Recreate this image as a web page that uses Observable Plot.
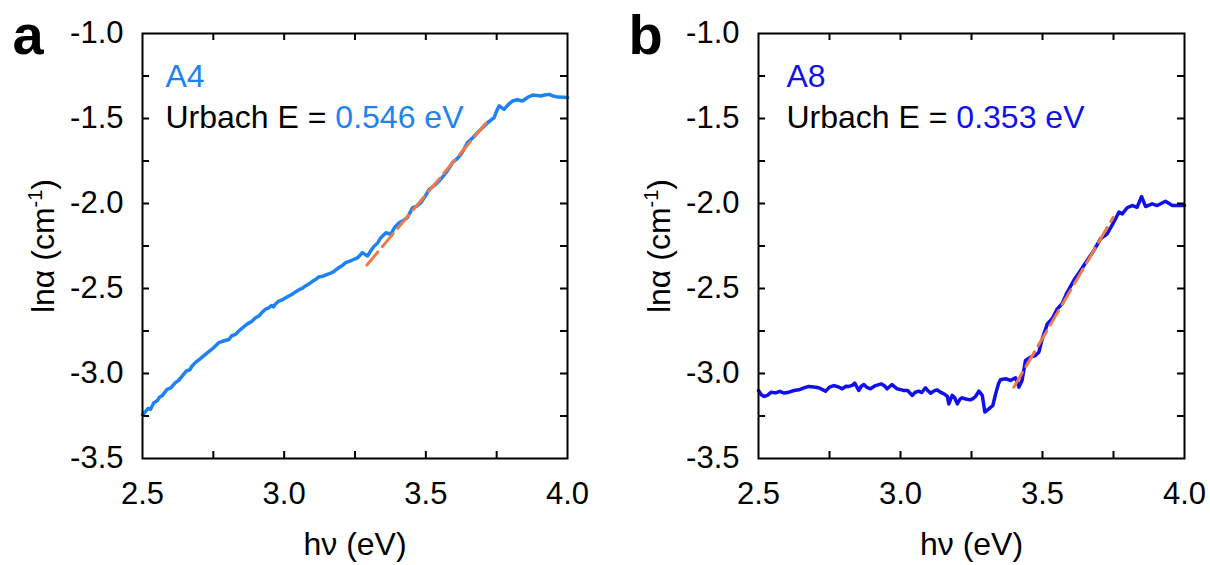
<!DOCTYPE html>
<html>
<head>
<meta charset="utf-8">
<script src="https://cdn.jsdelivr.net/npm/d3@7"></script>
<script src="https://cdn.jsdelivr.net/npm/@observablehq/plot@0.6"></script>
<style>
  html, body { margin: 0; padding: 0; background: white; }
  #wrap { display: flex; flex-direction: row; width: 1210px; height: 565px; }
  #wrap svg { display: block; }
</style>
</head>
<body>
<div id="wrap"></div>
<script>
// ---------- data ----------
const xTickLabels = [2.5, 3.0, 3.5, 4.0];
const yTickLabels = [-3.5, -3.0, -2.5, -2.0, -1.5, -1.0];
const xMinorTicks = [2.75, 3.0, 3.25, 3.5, 3.75];
const yMinorTicks = [-3.25, -3.0, -2.75, -2.5, -2.25, -2.0, -1.75, -1.5, -1.25];

const panelLetters = ["a", "b"];
const sampleNames = ["A4", "A8"];
const urbachEnergies = ["0.546 eV", "0.353 eV"];

const aX = [2.500,2.510,2.520,2.528,2.540,2.552,2.560,2.570,2.587,2.600,2.615,2.628,2.640,2.655,2.667,2.675,2.690,2.700,2.722,2.735,2.750,2.769,2.780,2.792,2.805,2.815,2.828,2.840,2.855,2.870,2.885,2.899,2.912,2.922,2.934,2.945,2.955,2.962,2.970,2.981,2.995,3.010,3.028,3.040,3.055,3.065,3.075,3.090,3.100,3.112,3.122,3.135,3.150,3.169,3.180,3.195,3.205,3.217,3.230,3.247,3.260,3.276,3.294,3.305,3.318,3.330,3.341,3.359,3.376,3.390,3.406,3.420,3.435,3.453,3.468,3.482,3.497,3.512,3.527,3.541,3.556,3.571,3.583,3.594,3.610,3.624,3.635,3.647,3.665,3.682,3.700,3.718,3.741,3.750,3.759,3.776,3.790,3.806,3.822,3.841,3.860,3.877,3.892,3.906,3.920,3.935,3.950,3.965,3.985,4.000];
const aY = [-3.244,-3.225,-3.205,-3.212,-3.172,-3.160,-3.140,-3.130,-3.093,-3.085,-3.055,-3.040,-3.015,-2.985,-2.978,-2.956,-2.930,-2.918,-2.887,-2.870,-2.850,-2.819,-2.812,-2.806,-2.800,-2.778,-2.770,-2.750,-2.728,-2.708,-2.694,-2.672,-2.660,-2.640,-2.622,-2.615,-2.600,-2.608,-2.590,-2.574,-2.565,-2.550,-2.534,-2.520,-2.505,-2.498,-2.485,-2.470,-2.458,-2.446,-2.432,-2.428,-2.418,-2.407,-2.394,-2.375,-2.365,-2.348,-2.340,-2.328,-2.318,-2.289,-2.309,-2.280,-2.250,-2.232,-2.201,-2.172,-2.181,-2.140,-2.113,-2.100,-2.083,-2.025,-2.015,-1.995,-1.960,-1.917,-1.898,-1.877,-1.850,-1.819,-1.790,-1.760,-1.738,-1.711,-1.680,-1.642,-1.615,-1.584,-1.555,-1.525,-1.495,-1.455,-1.426,-1.446,-1.420,-1.397,-1.390,-1.397,-1.375,-1.362,-1.365,-1.368,-1.362,-1.358,-1.368,-1.374,-1.375,-1.377];

const bX = [2.500,2.510,2.520,2.531,2.545,2.560,2.575,2.590,2.607,2.625,2.642,2.660,2.677,2.695,2.712,2.736,2.750,2.765,2.780,2.795,2.808,2.818,2.830,2.839,2.853,2.862,2.871,2.882,2.894,2.912,2.933,2.945,2.953,2.970,2.988,3.000,3.012,3.025,3.041,3.052,3.064,3.075,3.088,3.096,3.106,3.118,3.129,3.140,3.153,3.165,3.170,3.182,3.190,3.200,3.210,3.217,3.230,3.246,3.255,3.264,3.276,3.288,3.297,3.311,3.325,3.335,3.345,3.352,3.370,3.387,3.405,3.417,3.428,3.440,3.458,3.475,3.487,3.499,3.517,3.534,3.552,3.569,3.587,3.610,3.634,3.657,3.681,3.704,3.728,3.751,3.769,3.781,3.798,3.816,3.833,3.849,3.863,3.886,3.904,3.933,3.957,3.980,4.000];
const bY = [-3.100,-3.125,-3.135,-3.129,-3.110,-3.114,-3.105,-3.115,-3.110,-3.100,-3.096,-3.085,-3.076,-3.080,-3.084,-3.104,-3.080,-3.071,-3.078,-3.090,-3.075,-3.076,-3.070,-3.057,-3.100,-3.075,-3.065,-3.082,-3.090,-3.071,-3.061,-3.075,-3.090,-3.065,-3.090,-3.095,-3.100,-3.100,-3.129,-3.110,-3.104,-3.112,-3.084,-3.100,-3.116,-3.102,-3.096,-3.110,-3.120,-3.135,-3.179,-3.129,-3.140,-3.179,-3.150,-3.143,-3.150,-3.155,-3.148,-3.135,-3.104,-3.129,-3.227,-3.208,-3.188,-3.120,-3.060,-3.037,-3.031,-3.041,-3.025,-3.080,-3.041,-2.924,-2.904,-2.894,-2.875,-2.796,-2.708,-2.678,-2.620,-2.590,-2.522,-2.453,-2.394,-2.335,-2.276,-2.208,-2.178,-2.110,-2.051,-2.061,-2.025,-2.012,-2.022,-1.959,-2.018,-2.002,-2.012,-1.987,-2.012,-2.012,-2.012];

const fitAX = [3.292, 3.718];
const fitAY = [-2.362, -1.515];
const fitBX = [3.399, 3.749];
const fitBY = [-3.081, -2.081];

// ---------- styles ----------
const colorA = "#1E82F5";
const colorB = "#1010EE";
const fitColor = "#F07A45";
const fmt = d => d.toFixed(1);
const FS = 31;
const FS_ANN = 32;

function panel(opts) {
  const {xs, ys, fx, fy, color, letter, name, energy, ml, mr, annDx} = opts;
  const W = 605, H = 565, mt = 33, mb = 107;
  const iw = W - ml - mr, ih = H - mt - mb;
  const data = xs.map((x, i) => ({x, y: ys[i]}));
  const fit = fx.map((x, i) => ({x, y: fy[i]}));
  const svg = Plot.plot({
    width: W, height: H,
    marginLeft: ml, marginRight: mr, marginTop: mt, marginBottom: mb,
    x: {domain: [2.5, 4], label: null},
    y: {domain: [-3.5, -1], label: null},
    style: {fontFamily: "'Liberation Sans', Arial, sans-serif", background: "white", color: "black"},
    marks: [
      Plot.line(data, {x: "x", y: "y", stroke: color, strokeWidth: 3.5, strokeLinejoin: "round"}),
      Plot.line(fit, {x: "x", y: "y", stroke: fitColor, strokeWidth: 3, strokeDasharray: "17,7"}),
      Plot.tickX(xMinorTicks, {x: d => d, stroke: "black", strokeWidth: 2, insetTop: ih - 7}),
      Plot.tickX(xMinorTicks, {x: d => d, stroke: "black", strokeWidth: 2, insetBottom: ih - 7}),
      Plot.tickY(yMinorTicks, {y: d => d, stroke: "black", strokeWidth: 2, insetRight: iw - 7}),
      Plot.tickY(yMinorTicks, {y: d => d, stroke: "black", strokeWidth: 2, insetLeft: iw - 7}),
      Plot.frame({stroke: "black", strokeWidth: 2}),
      Plot.axisX({ticks: xTickLabels, tickSize: 0, tickPadding: 23, tickFormat: fmt, fontSize: FS, label: null}),
      Plot.axisY({ticks: yTickLabels, tickSize: 0, tickPadding: 19, tickFormat: fmt, fontSize: FS, label: null}),
      Plot.text([letter], {text: d => d, frameAnchor: "top-left", dx: -130, dy: 20, fontSize: 56, fontWeight: "bold", textAnchor: "start", lineAnchor: "bottom", fill: "black"}),
      Plot.text([name], {text: d => d, frameAnchor: "top-left", dx: annDx, dy: 53, fontSize: FS_ANN, textAnchor: "start", lineAnchor: "bottom", fill: color}),
      Plot.text(["Urbach E = " + energy], {text: d => d, frameAnchor: "top-left", dx: annDx, dy: 94, fontSize: FS_ANN, textAnchor: "start", lineAnchor: "bottom", fill: "black"}),
      Plot.text(["hν (eV)"], {text: d => d, frameAnchor: "bottom", dy: 96, fontSize: FS_ANN, lineAnchor: "bottom", fill: "black"}),
      Plot.text(["lnα (cm-1)"], {text: d => d, frameAnchor: "left", dx: -99, dy: 0, rotate: -90, fontSize: FS_ANN, textAnchor: "middle", lineAnchor: "middle", fill: "black"})
    ]
  });
  svg.querySelectorAll("text").forEach(t => {
    const s = t.textContent;
    if (s.startsWith("Urbach E = ")) {
      t.innerHTML = 'Urbach E = <tspan fill="' + color + '">' + energy + '</tspan>';
    } else if (s === "lnα (cm-1)") {
      t.innerHTML = 'lnα (cm<tspan font-size="20" dy="-12">-1</tspan><tspan dy="12">)</tspan>';
    }
  });
  return svg;
}

const wrap = document.getElementById("wrap");
wrap.appendChild(panel({xs: aX, ys: aY, fx: fitAX, fy: fitAY, color: colorA, letter: panelLetters[0], name: sampleNames[0], energy: urbachEnergies[0], ml: 142, mr: 38, annDx: 23}));
wrap.appendChild(panel({xs: bX, ys: bY, fx: fitBX, fy: fitBY, color: colorB, letter: panelLetters[1], name: sampleNames[1], energy: urbachEnergies[1], ml: 153, mr: 26, annDx: 28}));
</script>
</body>
</html>
